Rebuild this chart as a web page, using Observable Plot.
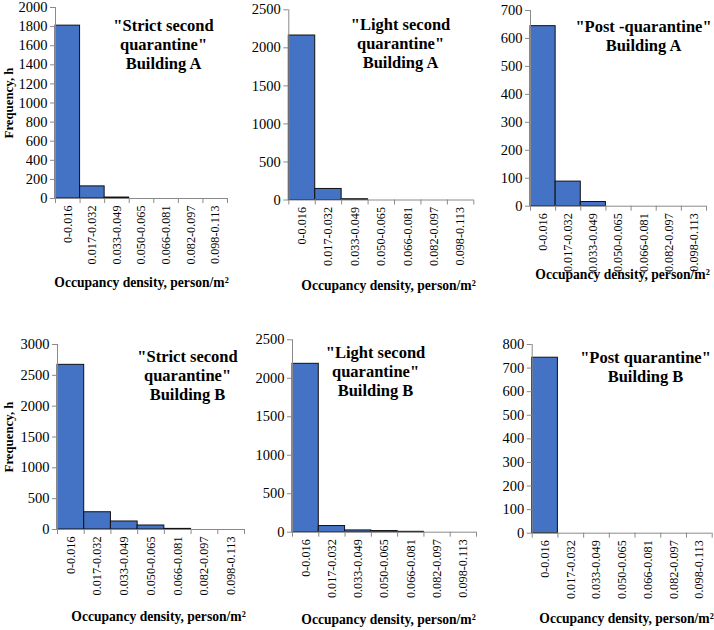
<!DOCTYPE html>
<html>
<head>
<meta charset="utf-8">
<script src="https://cdn.jsdelivr.net/npm/d3@7"></script>
<script src="https://cdn.jsdelivr.net/npm/@observablehq/plot@0.6"></script>
<style>
  html, body { margin: 0; padding: 0; background: #fff; }
  #root { position: relative; width: 714px; height: 630px; background: #fff; overflow: hidden; font-family: "Liberation Serif"; }
  .panel { position: absolute; }
</style>
</head>
<body>
<div id="root"></div>
<script>
// ---- data ----
const categories = ["0-0.016", "0.017-0.032", "0.033-0.049", "0.050-0.065", "0.066-0.081", "0.082-0.097", "0.098-0.113"];
const strictA = [1810, 127, 10, 0, 0, 0, 0];
const lightA  = [2162, 145, 10, 0, 0, 0, 0];
const postA   = [644, 88, 15, 0, 0, 0, 0];
const strictB = [2670, 280, 130, 65, 10, 0, 0];
const lightB  = [2188, 80, 23, 15, 5, 0, 0];
const postB   = [744, 0, 0, 0, 0, 0, 0];
const titles = [
  "\"Strict second\nquarantine\"\nBuilding A",
  "\"Light second\nquarantine\"\nBuilding A",
  "\"Post -quarantine\"\nBuilding A",
  "\"Strict second\nquarantine\"\nBuilding B",
  "\"Light second\nquarantine\"\nBuilding B",
  "\"Post quarantine\"\nBuilding B"
];
const xLabel = "Occupancy density, person/m²";
const yLabel = "Frequency, h";

// ---- layout ----
const panels = [
  {values: strictA, yMax: 2000, yStep: 200, title: titles[0], ylab: true,
   left: 0, top: 0, width: 240, height: 300, mL: 55, mR: 13, mT: 7, mB: 102,
   tX: 163, tY: 17, labX: 141, labY: 286},
  {values: lightA, yMax: 2500, yStep: 500, title: titles[1], ylab: false,
   left: 240, top: 0, width: 240, height: 300, mL: 48.3, mR: 6.7, mT: 9.3, mB: 100.5,
   tX: 160, tY: 16, labX: 148, labY: 289},
  {values: postA, yMax: 700, yStep: 100, title: titles[2], ylab: false,
   left: 470, top: 0, width: 244, height: 300, mL: 60, mR: 8, mT: 10, mB: 94.3,
   tX: 173, tY: 18, labX: 152, labY: 278},
  {values: strictB, yMax: 3000, yStep: 500, title: titles[3], ylab: true,
   left: 0, top: 300, width: 250, height: 330, mL: 57, mR: 6, mT: 44, mB: 101,
   tX: 187, tY: 48, labX: 158, labY: 320},
  {values: lightB, yMax: 2500, yStep: 500, title: titles[4], ylab: false,
   left: 240, top: 300, width: 245, height: 330, mL: 52, mR: 9, mT: 39.3, mB: 98.3,
   tX: 135, tY: 44, labX: 148, labY: 323},
  {values: postB, yMax: 800, yStep: 100, title: titles[5], ylab: false,
   left: 470, top: 300, width: 244, height: 330, mL: 61.7, mR: 2.3, mT: 44, mB: 97.3,
   tX: 175, tY: 49, labX: 156, labY: 322}
];

const FONT = "Liberation Serif";
const axisGray = "#8a8a8a";
const barBlue = "#4472C4";
const root = document.getElementById("root");

for (const p of panels) {
  const data = p.values.map((v, i) => ({i, v, cat: categories[i]})).filter(d => d.v > 0);
  const frameBottom = p.height - p.mB;
  const marks = [
    Plot.rectY(data, {x1: d => d.i, x2: d => d.i + 1, y: "v", fill: barBlue, stroke: "#111", strokeWidth: 1}),
    Plot.ruleY([0], {stroke: axisGray, strokeWidth: 1}),
    Plot.ruleX([0], {stroke: axisGray, strokeWidth: 1}),
    Plot.axisY(d3.range(0, p.yMax + 1, p.yStep), {tickSize: 5, tickPadding: 3, stroke: axisGray, fill: "#000", fontSize: 14.5,
      fontFamily: FONT, tickFormat: d => String(d), label: null}),
    Plot.axisX(d3.range(0, 8), {tickSize: 5, stroke: axisGray, tickFormat: () => "", label: null}),
    Plot.axisX(d3.range(0, 7).map(i => i + 0.5), {tickSize: 0, tickPadding: 7, tickRotate: -90, fontSize: 12.2, fill: "#000",
      fontFamily: FONT, tickFormat: d => categories[Math.round(d - 0.5)], label: null}),
    Plot.text([xLabel], {text: d => d, frameAnchor: "bottom-left", dx: p.labX - p.mL, dy: p.labY - frameBottom,
      fontFamily: FONT, fontWeight: "bold", fontSize: 13.6, textAnchor: "middle", fill: "#000"}),
    Plot.text([p.title], {text: d => d, frameAnchor: "top-left", dx: p.tX - p.mL, dy: p.tY - p.mT,
      fontFamily: FONT, fontWeight: "bold", fontSize: 16.5, textAnchor: "middle", lineAnchor: "top", lineHeight: 1.15, fill: "#000"})
  ];
  if (p.ylab) {
    marks.push(Plot.text([yLabel], {text: d => d, frameAnchor: "left", dx: 8 - p.mL, rotate: -90,
      fontFamily: FONT, fontWeight: "bold", fontSize: 12.8, textAnchor: "middle", fill: "#000"}));
  }
  const svg = Plot.plot({
    width: p.width,
    height: p.height,
    marginLeft: p.mL,
    marginRight: p.mR,
    marginTop: p.mT,
    marginBottom: p.mB,
    x: {type: "linear", domain: [0, 7], nice: false},
    y: {type: "linear", domain: [0, p.yMax], nice: false},
    style: {fontFamily: FONT, background: "transparent", overflow: "visible"},
    marks
  });
  const div = document.createElement("div");
  div.className = "panel";
  div.style.left = p.left + "px";
  div.style.top = p.top + "px";
  div.appendChild(svg);
  root.appendChild(div);
}
</script>
</body>
</html>
